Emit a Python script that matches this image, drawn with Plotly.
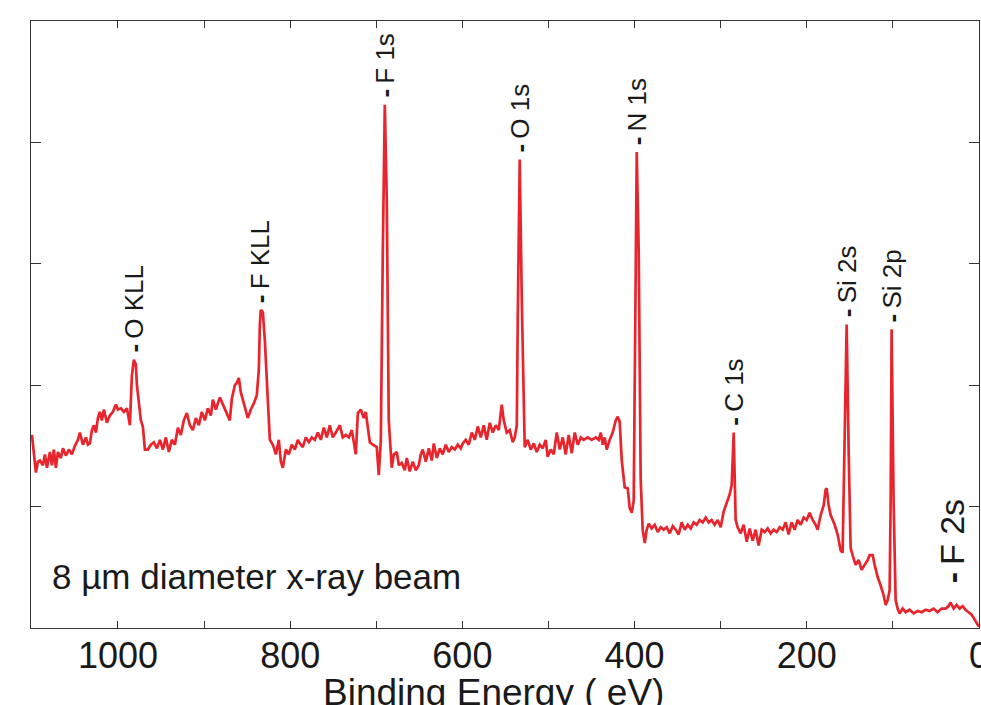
import plotly.graph_objects as go

# Binding energy (eV) and intensity (arbitrary units)
binding_energy_ev = [
    1099.9, 1097.6, 1095.3, 1093.0, 1090.6, 1087.2, 1084.8, 1082.5, 1079.0, 1076.7,
    1074.4, 1072.1, 1069.7, 1066.3, 1063.9, 1060.5, 1057.0, 1053.5, 1050.0, 1046.5,
    1044.2, 1040.7, 1037.2, 1034.9, 1032.6, 1030.3, 1027.9, 1025.6, 1023.3, 1021.0,
    1018.7, 1016.3, 1012.9, 1009.4, 1005.9, 1002.4, 1000.1, 996.6, 993.1, 989.6,
    987.3, 986.1, 985.0, 983.8, 981.5, 979.2, 978.0, 975.7, 973.4, 971.1,
    968.7, 965.3, 961.8, 958.3, 954.8, 951.3, 947.8, 944.4, 940.9, 937.4,
    933.9, 930.4, 927.0, 923.5, 920.0, 916.5, 913.0, 909.5, 906.0, 902.6,
    899.1, 895.6, 892.1, 889.8, 886.3, 881.7, 878.2, 874.7, 870.1, 867.7,
    864.2, 861.9, 859.6, 857.3, 853.8, 849.2, 845.7, 842.2, 838.7, 836.4,
    835.2, 834.1, 831.7, 829.4, 827.1, 824.8, 823.6, 820.1, 816.6, 813.2,
    810.8, 808.5, 805.0, 801.6, 798.1, 794.6, 791.1, 788.8, 785.3, 781.8,
    778.3, 774.9, 771.4, 767.9, 764.4, 760.9, 757.4, 754.0, 750.5, 747.0,
    742.3, 738.9, 735.4, 731.9, 728.4, 723.8, 721.4, 718.0, 714.5, 712.2,
    709.8, 707.5, 704.0, 699.4, 697.1, 694.7, 692.4, 690.1, 687.8, 685.5,
    682.0, 679.6, 676.2, 673.8, 670.4, 666.9, 664.6, 661.1, 657.6, 654.1,
    650.6, 648.3, 646.0, 642.5, 639.0, 635.5, 633.2, 629.7, 626.2, 622.8,
    619.3, 615.8, 612.3, 608.8, 605.3, 601.9, 599.5, 596.1, 592.6, 589.1,
    585.6, 582.1, 578.6, 575.2, 571.7, 568.2, 564.7, 561.2, 557.7, 554.3,
    551.9, 548.5, 545.0, 541.5, 539.2, 536.8, 535.7, 533.4, 531.0, 528.7,
    527.6, 524.1, 520.6, 517.1, 513.6, 510.1, 506.7, 503.2, 500.9, 497.4,
    493.9, 490.4, 486.9, 483.4, 480.0, 476.5, 473.0, 469.5, 466.0, 462.5,
    459.1, 454.4, 449.8, 445.1, 441.6, 439.3, 437.0, 434.7, 432.4, 428.9,
    425.4, 421.9, 419.6, 417.3, 414.9, 411.5, 408.0, 405.7, 403.3, 401.0,
    398.7, 397.5, 395.2, 392.9, 390.6, 388.2, 385.9, 383.6, 380.1, 376.6,
    373.1, 369.7, 366.2, 362.7, 359.2, 355.7, 352.2, 348.8, 345.3, 341.8,
    338.3, 334.8, 331.4, 327.9, 324.4, 320.9, 317.4, 313.9, 310.5, 307.0,
    303.5, 300.0, 296.5, 293.0, 289.6, 287.2, 284.9, 282.6, 280.3, 276.8,
    273.3, 269.8, 266.3, 262.9, 259.4, 255.9, 252.4, 248.9, 245.4, 242.0,
    238.5, 235.0, 231.5, 228.0, 224.5, 221.1, 217.6, 214.1, 210.6, 207.1,
    203.6, 200.2, 196.7, 193.2, 189.7, 187.4, 183.9, 180.4, 178.1, 176.9,
    174.6, 172.3, 170.0, 167.6, 164.2, 160.7, 158.4, 156.0, 153.7, 151.4,
    149.1, 146.8, 143.3, 139.8, 136.3, 132.8, 129.3, 127.0, 123.5, 121.2,
    117.7, 114.2, 110.8, 108.4, 106.1, 103.8, 102.6, 101.5, 99.2, 96.8,
    94.5, 92.2, 88.7, 85.2, 80.6, 75.9, 71.3, 66.6, 62.0, 57.4,
    52.7, 48.1, 43.4, 38.8, 35.3, 33.0, 29.5, 26.0, 22.5, 19.0,
    15.6, 12.1, 8.6, 5.1, 1.6, 0.0,
]

intensity_au = [
    1.59, 1.43, 1.28, 1.37, 1.38, 1.34, 1.43, 1.32, 1.45, 1.34,
    1.47, 1.32, 1.45, 1.40, 1.48, 1.42, 1.47, 1.43, 1.50, 1.55,
    1.61, 1.51, 1.57, 1.51, 1.52, 1.63, 1.67, 1.61, 1.73, 1.78,
    1.71, 1.80, 1.69, 1.75, 1.78, 1.84, 1.80, 1.81, 1.78, 1.81,
    1.71, 1.67, 1.88, 2.08, 2.21, 2.17, 2.00, 1.84, 1.71, 1.66,
    1.47, 1.47, 1.51, 1.53, 1.48, 1.55, 1.47, 1.57, 1.45, 1.55,
    1.51, 1.65, 1.59, 1.71, 1.77, 1.67, 1.63, 1.73, 1.67, 1.78,
    1.71, 1.81, 1.75, 1.88, 1.80, 1.90, 1.84, 1.78, 1.71, 1.89,
    2.00, 2.02, 2.06, 1.94, 1.84, 1.73, 1.80, 1.85, 1.92, 2.13,
    2.50, 2.62, 2.60, 2.37, 2.04, 1.71, 1.55, 1.51, 1.43, 1.55,
    1.37, 1.32, 1.47, 1.43, 1.51, 1.47, 1.55, 1.52, 1.49, 1.57,
    1.53, 1.57, 1.55, 1.61, 1.55, 1.65, 1.57, 1.67, 1.57, 1.61,
    1.67, 1.57, 1.59, 1.57, 1.63, 1.43, 1.77, 1.80, 1.73, 1.78,
    1.67, 1.53, 1.51, 1.49, 1.26, 1.55, 3.11, 4.31, 3.53, 1.71,
    1.32, 1.43, 1.45, 1.34, 1.36, 1.30, 1.40, 1.29, 1.37, 1.30,
    1.34, 1.43, 1.47, 1.37, 1.48, 1.38, 1.52, 1.40, 1.48, 1.43,
    1.51, 1.45, 1.49, 1.47, 1.51, 1.48, 1.52, 1.55, 1.51, 1.61,
    1.55, 1.66, 1.57, 1.67, 1.55, 1.69, 1.61, 1.67, 1.63, 1.84,
    1.71, 1.61, 1.63, 1.53, 1.57, 1.67, 2.54, 3.86, 2.70, 1.71,
    1.49, 1.55, 1.47, 1.52, 1.45, 1.51, 1.48, 1.55, 1.41, 1.47,
    1.43, 1.61, 1.47, 1.57, 1.43, 1.59, 1.44, 1.61, 1.51, 1.57,
    1.55, 1.57, 1.55, 1.57, 1.55, 1.61, 1.51, 1.57, 1.47, 1.55,
    1.61, 1.71, 1.74, 1.70, 1.38, 1.16, 1.15, 0.99, 0.95, 1.05,
    2.70, 3.92, 3.11, 1.22, 0.81, 0.70, 0.81, 0.86, 0.82, 0.85,
    0.79, 0.83, 0.81, 0.83, 0.78, 0.84, 0.81, 0.77, 0.87, 0.81,
    0.85, 0.82, 0.87, 0.85, 0.89, 0.87, 0.91, 0.87, 0.89, 0.85,
    0.89, 0.83, 0.96, 1.03, 1.10, 1.18, 1.61, 0.89, 0.83, 0.78,
    0.85, 0.71, 0.82, 0.72, 0.81, 0.68, 0.81, 0.79, 0.82, 0.78,
    0.81, 0.79, 0.83, 0.81, 0.87, 0.77, 0.87, 0.81, 0.89, 0.85,
    0.91, 0.89, 0.95, 0.89, 0.85, 0.81, 0.93, 1.01, 1.14, 1.15,
    1.01, 0.93, 0.89, 0.85, 0.77, 0.64, 0.62, 1.47, 2.50, 1.47,
    0.66, 0.60, 0.52, 0.56, 0.48, 0.52, 0.56, 0.60, 0.60, 0.52,
    0.42, 0.35, 0.27, 0.19, 0.23, 0.31, 1.05, 2.46, 1.05, 0.23,
    0.16, 0.12, 0.16, 0.13, 0.15, 0.12, 0.14, 0.13, 0.15, 0.14,
    0.16, 0.13, 0.16, 0.16, 0.18, 0.21, 0.16, 0.19, 0.16, 0.18,
    0.15, 0.13, 0.11, 0.07, 0.02, 0.01,
]

# Peak assignments and their binding energies (eV)
peak_labels = ["O KLL", "F KLL", "F 1s", "O 1s", "N 1s", "C 1s", "Si 2s", "Si 2p", "F 2s"]
peak_energies_ev = [981.5, 834.1, 690.1, 533.4, 397.5, 284.9, 153.7, 101.5, 30.6]

x_tick_values = list(range(0, 1100, 100))
x_tick_text = [str(v) if v % 200 == 0 else "" for v in x_tick_values]
y_tick_values = [1, 2, 3, 4]
x_title = "Binding Energy ( eV)"

FONT = "Liberation Sans, Arial, Helvetica, sans-serif"
LINE_RED = "#E8252D"
AXIS_GREY = "#333333"
TEXT = "#1a1a1a"

fig = go.Figure()
fig.add_trace(go.Scatter(
    x=binding_energy_ev, y=intensity_au, mode="lines",
    line=dict(color=LINE_RED, width=2.7), showlegend=False, hoverinfo="skip",
))

for name, e in zip(peak_labels, peak_energies_ev):
    near = [i for x, i in zip(binding_energy_ev, intensity_au) if abs(x - e) <= 3]
    top = max(near)
    big = name == "F 2s"
    fig.add_annotation(
        x=e, y=top, xref="x", yref="y",
        text="<b>-</b>\u2009" + name,
        textangle=-90, showarrow=False,
        xanchor="center", yanchor="bottom",
        yshift=17 if big else 5, xshift=-1 if big else 0,
        font=dict(family=FONT, size=34 if big else 26, color=TEXT),
    )

fig.add_annotation(
    x=0.02, y=0.085, xref="paper", yref="paper",
    text="8 µm diameter x-ray beam", showarrow=False,
    xanchor="left", yanchor="middle",
    font=dict(family=FONT, size=35, color=TEXT),
)

# x-axis title, placed partly below the lower edge as in the original
fig.add_annotation(
    x=0.488, y=-0.069, xref="paper", yref="paper",
    text=x_title, showarrow=False,
    xanchor="center", yanchor="top",
    font=dict(family=FONT, size=37, color=TEXT),
)

fig.update_xaxes(
    range=[1101, 0], tickmode="array", tickvals=x_tick_values, ticktext=x_tick_text,
    ticks="inside", ticklen=7, tickwidth=1.3, tickcolor=AXIS_GREY,
    showline=True, linecolor=AXIS_GREY, linewidth=1.3, mirror="allticks",
    showgrid=False, zeroline=False, ticklabelstandoff=-4, ticklabeloverflow="allow",
    tickfont=dict(family=FONT, size=36, color=TEXT),
)
fig.update_yaxes(
    range=[0, 5], tickmode="array", tickvals=y_tick_values, showticklabels=False,
    ticks="inside", ticklen=10, tickwidth=1.3, tickcolor=AXIS_GREY,
    showline=True, linecolor=AXIS_GREY, linewidth=1.3, mirror="allticks",
    showgrid=False, zeroline=False,
)
fig.update_layout(
    width=981, height=705, autosize=False,
    margin=dict(l=31, r=2, t=21, b=77, autoexpand=False),
    plot_bgcolor="white", paper_bgcolor="white",
    font=dict(family=FONT),
)
fig.write_html(
    "out.html",
    config={"displayModeBar": False},
    post_script="document.body.style.margin='0';document.body.style.overflow='hidden';",
)
